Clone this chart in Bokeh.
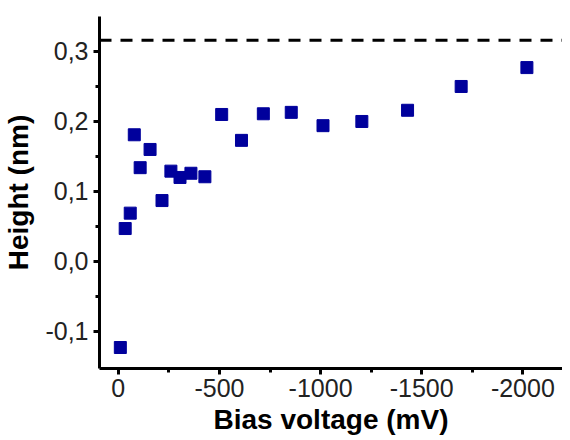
from bokeh.plotting import figure
from bokeh.models import Range1d, FixedTicker, Span, ColumnDataSource
from bokeh.embed import file_html
from bokeh.resources import INLINE

# Data
bias_mv = [-10, -34, -59, -79, -108, -157, -216, -260, -305, -359, -428,
           -511, -609, -717, -855, -1012, -1204, -1430, -1695, -2020]
height_nm = [-0.123, 0.047, 0.069, 0.181, 0.134, 0.160, 0.087, 0.129, 0.120,
             0.126, 0.121, 0.210, 0.173, 0.211, 0.213, 0.194, 0.200, 0.216,
             0.250, 0.277]
reference_height = 0.316

x_ticks = [0, -500, -1000, -1500, -2000]
x_minor = [-250, -750, -1250, -1750]
x_labels = ["0", "-500", "-1000", "-1500", "-2000"]
y_ticks = [-0.1, 0.0, 0.1, 0.2, 0.3]
y_minor = [-0.05, 0.05, 0.15, 0.25]
y_labels = ["-0,1", "0,0", "0,1", "0,2", "0,3"]

FONT = "Liberation Sans"

p = figure(width=562, height=442, output_backend="svg", toolbar_location=None,
           x_range=Range1d(93, -2196), y_range=Range1d(-0.153, 0.35),
           min_border_left=96, min_border_top=16, min_border_bottom=74,
           min_border_right=0)
p.outline_line_color = None
p.xgrid.visible = False
p.ygrid.visible = False
p.background_fill_color = "white"

src = ColumnDataSource(dict(x=bias_mv, y=height_nm))
p.scatter("x", "y", source=src, marker="square", size=12,
          fill_color="#00009C", line_color="#00009C")

p.add_layout(Span(location=reference_height, dimension="width",
                  line_color="black", line_width=3, line_dash="12 9"))

for ax, ticks, minor, labels in ((p.xaxis, x_ticks, x_minor, x_labels),
                                 (p.yaxis, y_ticks, y_minor, y_labels)):
    ax.ticker = FixedTicker(ticks=ticks, minor_ticks=minor)
    ax.major_label_overrides = {t: l for t, l in zip(ticks, labels)}
    ax.axis_line_width = 3
    ax.axis_line_color = "black"
    ax.major_tick_line_width = 3
    ax.major_tick_line_color = "black"
    ax.major_tick_in = 0
    ax.major_tick_out = 6
    ax.minor_tick_line_width = 3
    ax.minor_tick_line_color = "black"
    ax.minor_tick_in = 0
    ax.minor_tick_out = 4
    ax.major_label_text_font = FONT
    ax.major_label_text_font_size = "25px"
    ax.major_label_text_color = "#222222"
    ax.axis_label_text_font = FONT
    ax.axis_label_text_font_size = "28px"
    ax.axis_label_text_font_style = "bold"
    ax.axis_label_text_color = "black"

p.xaxis.axis_label = "Bias voltage (mV)"
p.yaxis.axis_label = "Height (nm)"
p.xaxis.major_label_standoff = 4
p.yaxis.major_label_standoff = 5
p.xaxis.axis_label_standoff = 4
p.yaxis.axis_label_standoff = 8

open("out.html", "w").write(file_html(p, INLINE))
